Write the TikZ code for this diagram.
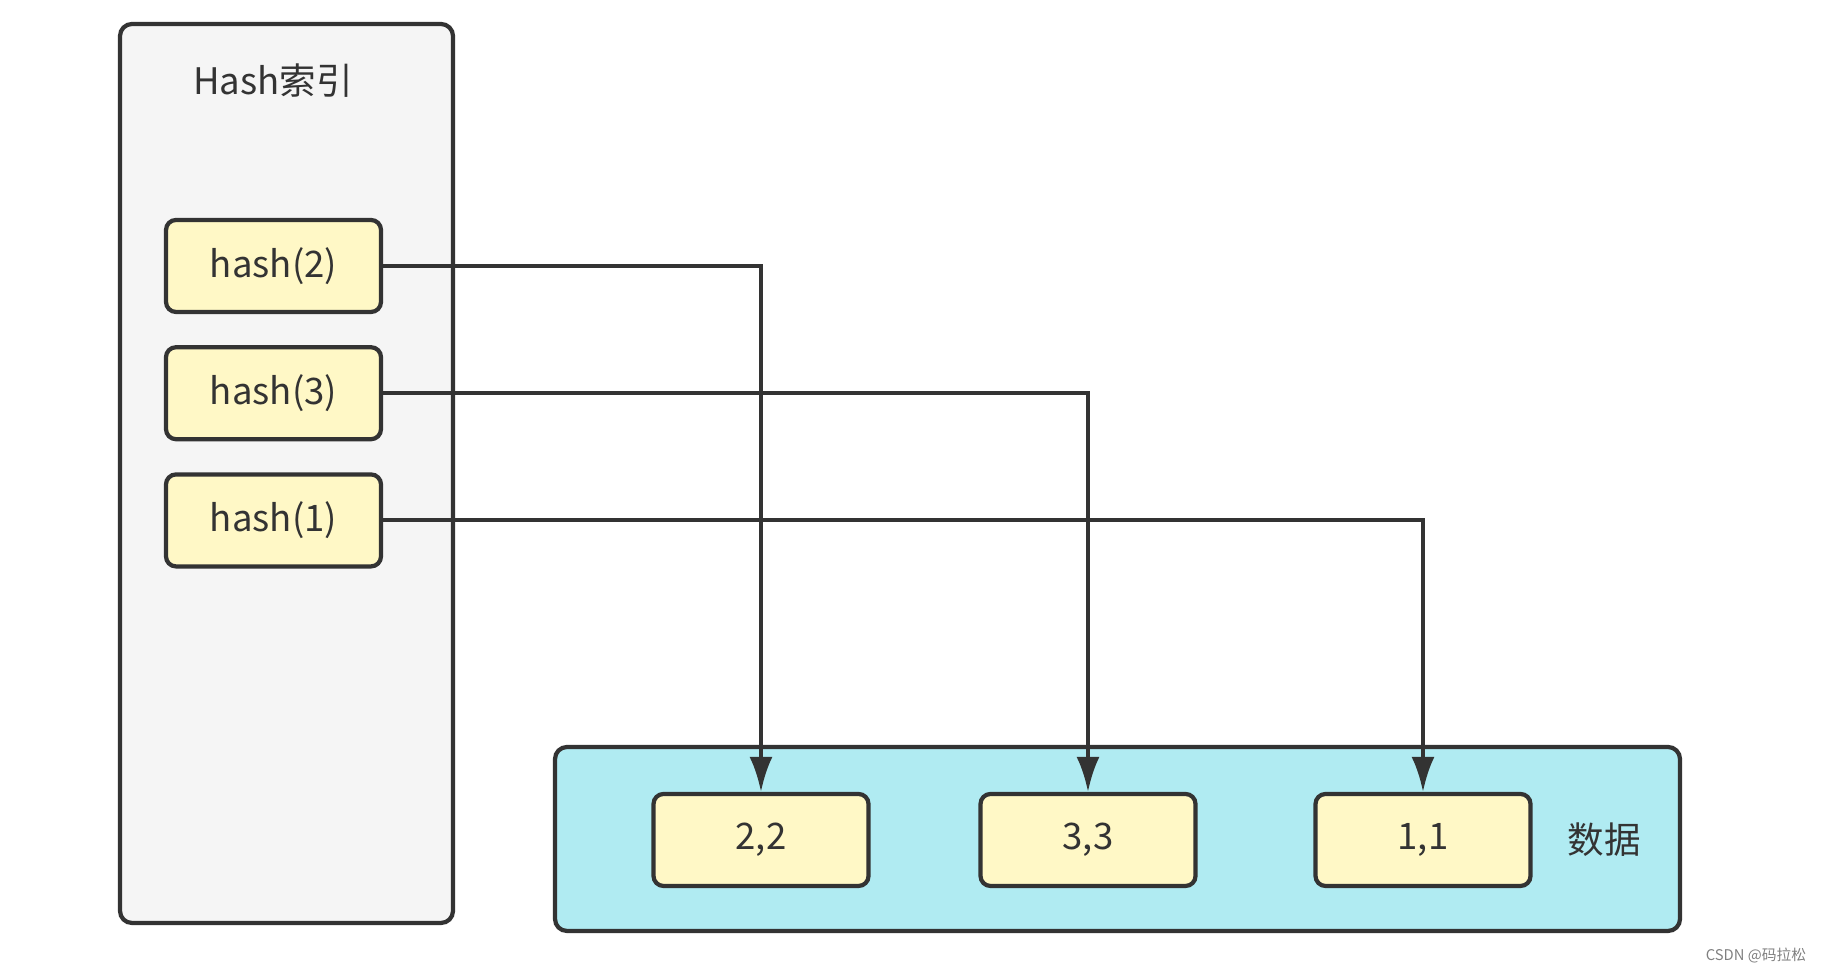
\documentclass[tikz,border=0pt]{standalone}
\usepackage{fontspec}
\setmainfont{Noto Sans CJK SC}
\usetikzlibrary{positioning,arrows.meta}
\definecolor{ink}{HTML}{333333}
\definecolor{grayfill}{HTML}{F5F5F5}
\definecolor{keyfill}{HTML}{FFF8C6}
\definecolor{datafill}{HTML}{B0EBF2}

\begin{document}
\begin{tikzpicture}[
    font=\fontsize{10.4}{12}\selectfont, text=ink,
    panel/.style={draw=ink, line width=1.2pt, rounded corners=0.12cm},
    keybox/.style={draw=ink, fill=keyfill, line width=1.2pt, rounded corners=0.1cm,
        minimum width=2.15cm, minimum height=0.92cm},
    link/.style={draw=ink, line width=1.1pt, -{Latex[length=0.35cm,width=0.23cm]}}]
    \useasboundingbox (0,0) rectangle (18.21,9.73);
    % the two containers
    \draw [panel, fill=grayfill] (1.2,0.5) rectangle (4.53,9.49);
    \draw [panel, fill=datafill] (5.55,0.42) rectangle (16.8,2.26);
    \node (title) at (2.73,8.92) {Hash索引};
    \node (label) at (16.04,1.33) {数据};
    % hash keys
    \node (h2) [keybox] at (2.735,7.07) {hash(2)};
    \node (h3) [keybox, below=0.31cm of h2] {hash(3)};
    \node (h1) [keybox, below=0.31cm of h3] {hash(1)};
    % data rows
    \node (d2) [keybox] at (7.61,1.33) {2,2};
    \node (d3) [keybox] at (10.88,1.33) {3,3};
    \node (d1) [keybox] at (14.23,1.33) {1,1};
    \draw [link] (h2) -| (d2);
    \draw [link] (h3) -| (d3);
    \draw [link] (h1) -| (d1);
    \node (mark) [text=gray, font=\fontsize{4.2}{5}\selectfont] at (17.56,0.17) {CSDN @码拉松};
\end{tikzpicture}
\end{document}
